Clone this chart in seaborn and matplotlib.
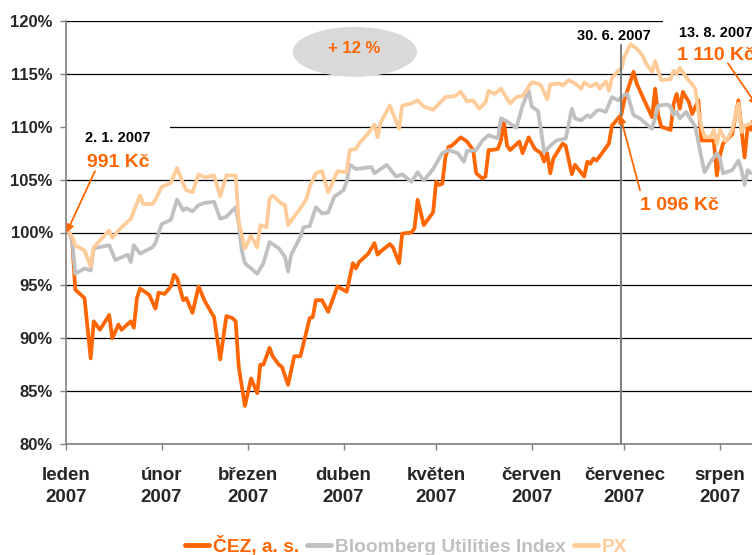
import matplotlib
matplotlib.use("Agg")
import matplotlib.pyplot as plt
from matplotlib.lines import Line2D
from matplotlib.patches import Ellipse
import pandas as pd
import seaborn as sns

START = pd.Timestamp("2007-01-01")

# days since 1. 1. 2007, values in % of the 2. 1. 2007 level
cez_day = [1, 2, 3, 6, 8, 9, 11, 14, 15, 17,
           18, 21, 22, 23, 24, 27, 29, 30, 32, 34,
           35, 36, 38, 39, 41, 43, 45, 48, 50, 52,
           54, 55, 56, 58, 60, 62, 63, 64, 66, 67,
           69, 70, 72, 74, 76, 79, 80, 81, 83, 85,
           88, 91, 93, 94, 95, 98, 100, 101, 102, 105,
           106, 108, 109, 112, 113, 114, 116, 119, 120, 121,
           122, 123, 124, 125, 128, 130, 132, 133, 135, 136,
           137, 138, 140, 141, 142, 143, 144, 147, 148, 150,
           152, 154, 155, 156, 157, 158, 161, 162, 164, 165,
           168, 169, 170, 171, 172, 173, 176, 177, 179, 180,
           181, 184, 185, 187, 190, 191, 192, 193, 196, 197,
           198, 199, 200, 202, 203, 205, 206, 210, 211, 212,
           213, 216, 218, 219, 220, 221, 222, 224]
cez_val = [100.0, 99.3, 94.6, 93.8, 88.1, 91.6, 90.8, 92.2, 90.0, 91.3,
           90.8, 91.6, 91.0, 93.8, 94.7, 94.1, 92.8, 94.3, 94.2, 94.9,
           96.0, 95.7, 93.6, 93.8, 92.4, 94.9, 93.5, 92.0, 88.0, 92.1,
           91.9, 91.6, 87.3, 83.6, 86.2, 84.8, 87.5, 87.5, 89.1, 88.3,
           87.5, 87.3, 85.6, 88.3, 88.3, 91.9, 92.0, 93.6, 93.6, 92.5,
           94.9, 94.4, 97.1, 96.6, 97.2, 98.0, 99.0, 97.9, 98.2, 98.9,
           98.6, 97.1, 99.9, 100.0, 100.4, 103.1, 100.7, 101.9, 104.8, 104.5,
           104.6, 107.1, 108.1, 108.2, 109.0, 108.6, 107.8, 105.6, 105.1, 105.3,
           107.8, 107.8, 107.9, 108.7, 110.4, 108.2, 107.8, 108.6, 107.5, 109.0,
           107.9, 107.5, 106.7, 107.5, 105.6, 107.0, 108.4, 108.2, 105.5, 106.4,
           105.3, 106.7, 106.5, 107.0, 106.8, 107.2, 108.4, 110.1, 110.8, 111.1,
           112.5, 115.2, 114.1, 112.8, 110.9, 113.6, 111.1, 110.0, 109.7, 112.2,
           113.1, 111.7, 113.3, 112.3, 111.2, 112.5, 108.7, 108.7, 105.4, 107.3,
           108.4, 109.3, 112.5, 109.7, 107.1, 110.0, 109.7, 112.0]

bbg_day = [1, 2, 3, 6, 8, 9, 14, 16, 20, 21,
           22, 24, 28, 29, 31, 34, 36, 38, 39, 41,
           43, 45, 48, 50, 52, 55, 56, 57, 58, 62,
           64, 66, 69, 71, 72, 73, 76, 77, 79, 81,
           83, 85, 87, 90, 91, 92, 94, 99, 100, 104,
           107, 109, 112, 114, 116, 119, 122, 124, 127, 129,
           130, 133, 135, 137, 140, 141, 143, 146, 148, 150,
           151, 153, 154, 155, 157, 159, 162, 164, 165, 167,
           169, 170, 172, 173, 175, 177, 179, 180, 181, 182,
           184, 186, 190, 192, 195, 196, 197, 198, 199, 201,
           204, 206, 207, 209, 211, 212, 213, 216, 218, 219,
           220, 221, 222]
bbg_val = [100.0, 99.3, 96.1, 96.6, 96.4, 98.5, 98.8, 97.4, 97.9, 97.2,
           98.8, 98.0, 98.6, 99.0, 100.8, 101.2, 103.1, 102.1, 102.3, 102.0,
           102.6, 102.8, 102.9, 101.3, 101.5, 102.4, 100.8, 98.3, 97.1, 96.1,
           97.1, 99.1, 98.5, 97.7, 96.3, 97.9, 99.6, 100.5, 100.6, 102.4,
           101.8, 101.9, 103.4, 104.0, 104.8, 106.4, 106.0, 106.2, 105.6, 106.4,
           105.3, 105.5, 104.8, 105.7, 104.9, 106.0, 107.5, 107.8, 107.5, 106.7,
           107.7, 107.8, 108.7, 109.2, 108.9, 110.8, 110.5, 109.9, 112.0, 113.4,
           111.9, 111.5, 109.7, 107.6, 108.2, 108.7, 108.9, 111.7, 110.8, 110.6,
           111.1, 110.9, 111.5, 111.6, 111.4, 112.8, 112.5, 112.8, 113.0, 113.1,
           111.1, 110.8, 109.8, 112.0, 112.1, 111.9, 111.1, 111.4, 110.8, 111.4,
           110.0, 107.1, 105.7, 106.7, 107.5, 107.0, 105.6, 105.9, 106.8, 105.9,
           104.5, 105.9, 105.6]

px_day = [1, 2, 3, 6, 8, 9, 14, 15, 17, 21,
          24, 25, 28, 29, 31, 34, 36, 38, 39, 41,
          43, 45, 48, 50, 52, 55, 56, 58, 60, 62,
          63, 65, 66, 67, 70, 71, 72, 74, 76, 78,
          79, 81, 83, 85, 88, 91, 92, 94, 95, 98,
          100, 101, 102, 105, 108, 109, 112, 114, 116, 119,
          121, 123, 126, 128, 130, 132, 134, 136, 137, 139,
          141, 144, 146, 148, 151, 153, 154, 156, 157, 160,
          161, 163, 165, 167, 168, 170, 172, 173, 175, 176,
          177, 179, 180, 181, 183, 184, 185, 187, 188, 190,
          191, 193, 196, 197, 198, 199, 201, 203, 204, 205,
          206, 207, 209, 210, 211, 212, 214, 216, 218, 219,
          220, 222]
px_val = [100.0, 99.6, 98.8, 98.3, 96.8, 98.6, 100.2, 99.5, 100.2, 101.3,
          103.5, 102.7, 102.7, 103.1, 104.3, 104.7, 106.1, 104.6, 104.0, 103.8,
          105.5, 105.2, 105.4, 103.4, 105.4, 105.4, 101.0, 98.5, 99.7, 98.6,
          100.7, 100.5, 103.2, 103.5, 102.7, 102.6, 100.7, 101.5, 102.3, 103.2,
          104.3, 105.6, 105.8, 103.8, 105.8, 105.7, 107.8, 107.9, 108.4, 109.4,
          110.2, 109.0, 110.4, 112.0, 109.8, 112.0, 112.2, 112.5, 111.9, 111.6,
          112.2, 112.8, 112.9, 113.3, 112.4, 112.5, 111.7, 112.3, 113.4, 113.1,
          113.6, 112.2, 112.8, 112.9, 114.2, 114.1, 113.9, 112.6, 114.0, 114.1,
          113.9, 114.4, 114.1, 113.6, 114.2, 113.8, 114.1, 113.6, 114.3, 113.4,
          114.6, 115.3, 115.5, 116.6, 117.8, 117.6, 117.4, 116.7, 116.0, 115.2,
          116.2, 114.4, 114.5, 115.3, 115.0, 115.6, 114.7, 114.0, 113.6, 111.5,
          110.0, 109.1, 109.0, 109.7, 108.4, 109.7, 108.6, 109.7, 112.2, 109.5,
          110.1, 110.3]

series_names = ["ČEZ, a. s.", "Bloomberg Utilities Index", "PX"]
series_colors = ["#FF6600", "#C0C0C0", "#FFCC99"]
month_labels = ["leden", "únor", "březen", "duben", "květen", "červen", "červenec", "srpen"]
y_ticks = [80, 85, 90, 95, 100, 105, 110, 115, 120]

ORANGE = "#FF6600"


def day(d):
    return START + pd.Timedelta(days=d)


def to_frame(days, vals, name):
    return pd.DataFrame({"date": START + pd.to_timedelta(days, unit="D"),
                         "value": vals, "series": name})


df = pd.concat([to_frame(cez_day, cez_val, series_names[0]),
                to_frame(bbg_day, bbg_val, series_names[1]),
                to_frame(px_day, px_val, series_names[2])], ignore_index=True)

sns.set_theme(style="white")
plt.rcParams["font.family"] = ["Liberation Sans", "DejaVu Sans"]
plt.rcParams["font.weight"] = "bold"

fig = plt.figure(figsize=(7.52, 5.55), dpi=100)
ax = fig.add_axes([66 / 752, 111 / 555, 686 / 752, 423 / 555])

sns.lineplot(data=df, x="date", y="value", hue="series", hue_order=series_names,
             palette=dict(zip(series_names, series_colors)), estimator=None,
             linewidth=2.7, legend=False, ax=ax)

ax.set_xlim(START, day(222.4))
ax.set_ylim(80, 120)
ax.set_yticks(y_ticks)
ax.set_yticklabels([f"{v}%" for v in y_ticks])
ax.set_xticks(pd.date_range("2007-01-01", periods=len(month_labels), freq="MS"))
ax.set_xticklabels([f"{m}\n2007" for m in month_labels])
ax.set_xlabel("")
ax.set_ylabel("")

ax.yaxis.grid(True, color="black", linewidth=0.9)
ax.set_axisbelow(True)
for s in ["top", "right"]:
    ax.spines[s].set_visible(False)
for s in ["left", "bottom"]:
    ax.spines[s].set_color("#808080")
    ax.spines[s].set_linewidth(1.2)
ax.tick_params(axis="both", direction="out", length=4, width=1, color="#808080",
               left=True, bottom=True)
ax.tick_params(axis="y", labelsize=12, pad=5.5)
ax.tick_params(axis="x", labelsize=13.5, pad=12.5)
for lab in ax.get_xticklabels():
    lab.set_linespacing(1.4)

# 30. 6. 2007 marker line
ax.plot([day(180), day(180)], [80, 117.7], color="#808080", lw=1.5, zorder=4)

# +12 % bubble
ax.add_patch(Ellipse((0.421, 0.927), 0.181, 0.118, transform=ax.transAxes,
                     facecolor="#D9D9D9", edgecolor="none", zorder=1))
ax.text(day(93.4), 117.4, "+ 12 %", color=ORANGE, fontsize=12, fontweight="bold",
        ha="center", va="center", zorder=5)

arrow = dict(arrowstyle="-|>", color=ORANGE, lw=1.3, mutation_scale=11, shrinkA=0, shrinkB=0)

# start point
ax.text(day(16.9), 108.9, "2. 1. 2007", color="black", fontsize=10.5, ha="center", va="center",
        bbox=dict(facecolor="white", edgecolor="none", boxstyle="square,pad=1.3"), zorder=1.5)
ax.text(day(16.9), 106.6, "991 Kč", color=ORANGE, fontsize=14, ha="center", va="center", zorder=6)
ax.annotate("", xy=(day(0.2), 100.0), xytext=(day(9.4), 105.8), arrowprops=arrow,
            annotation_clip=False, zorder=6)

# 30. 6. 2007
ax.text(day(177.6), 118.6, "30. 6. 2007", color="black", fontsize=10.5, ha="center", va="center",
        zorder=5)
ax.text(day(199.0), 102.6, "1 096 Kč", color=ORANGE, fontsize=14, ha="center", va="center",
        zorder=6)
ax.annotate("", xy=(day(179.6), 111.1), xytext=(day(186.1), 104.0), arrowprops=arrow,
            annotation_clip=False, zorder=6)

# 13. 8. 2007
ax.text(day(210.7), 118.9, "13. 8. 2007", color="black", fontsize=10.5, ha="center", va="center",
        bbox=dict(facecolor="white", edgecolor="none", boxstyle="square,pad=1.1"), zorder=1.5,
        clip_on=False)
ax.text(day(210.7), 116.7, "1 110 Kč", color=ORANGE, fontsize=14, ha="center", va="center",
        zorder=6, clip_on=False)
ax.annotate("", xy=(day(224), 112.0), xytext=(day(214.6), 116.0), arrowprops=arrow,
            annotation_clip=False, zorder=6)

handles = [Line2D([], [], color=c, lw=3.5) for c in series_colors]
fig.legend(handles, series_names, ncol=3, loc="center", bbox_to_anchor=(0.54, 0.017),
           frameon=False, labelcolor=series_colors, handlelength=1.25, handletextpad=0.2,
           columnspacing=0.42, prop=dict(weight="bold", size=13.8))

fig.savefig("out.png", dpi=100)
